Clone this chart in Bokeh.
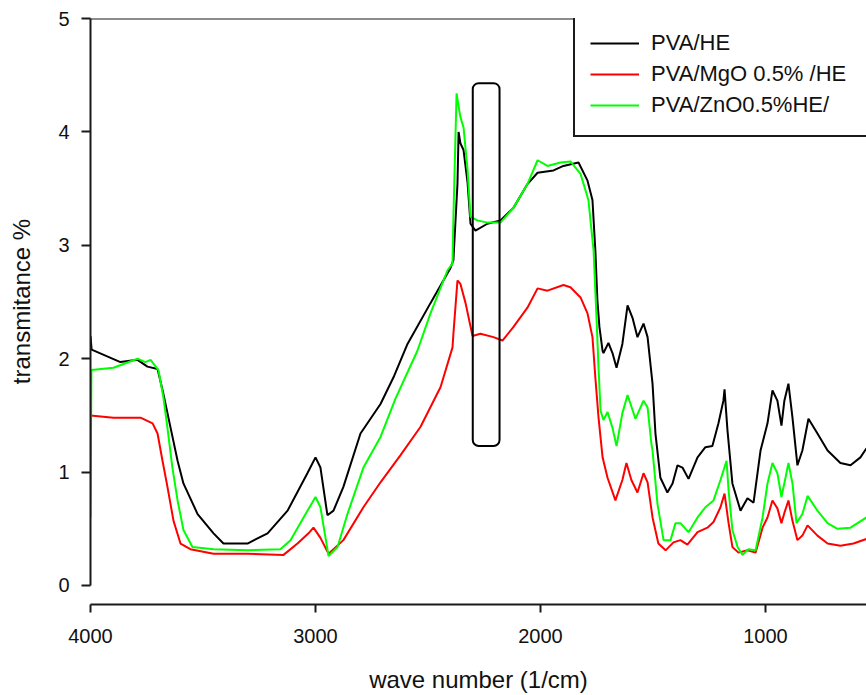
from bokeh.plotting import figure
from bokeh.models import Range1d, Legend, LegendItem, Span, BoxAnnotation, FixedTicker
from bokeh.embed import file_html
from bokeh.resources import INLINE

# ---- data (wave number 1/cm, transmitance %) ----
he_x = [4000, 3995, 3867, 3791, 3747, 3702, 3676, 3644, 3613, 3587, 3524, 3453, 3409, 3302, 3213,
        3124, 3036, 3000, 2978, 2947, 2920, 2876, 2800, 2711, 2650, 2591, 2489, 2400, 2387, 2369,
        2364, 2356, 2342, 2324, 2311, 2289, 2236, 2178, 2120, 2058, 2013, 1942, 1898, 1831, 1791,
        1769, 1756, 1747, 1738, 1724, 1720, 1698, 1680, 1662, 1636, 1613, 1591, 1569, 1542, 1524,
        1502, 1489, 1467, 1436, 1413, 1391, 1369, 1342, 1302, 1267, 1236, 1209, 1187, 1182, 1169,
        1147, 1111, 1080, 1053, 1022, 991, 969, 947, 929, 916, 898, 880, 858, 836, 809,
        769, 724, 667, 622, 578, 551]
he_y = [2.20, 2.08, 1.97, 1.99, 1.93, 1.91, 1.69, 1.39, 1.10, 0.90, 0.63, 0.46, 0.37, 0.37, 0.46,
        0.66, 0.99, 1.13, 1.04, 0.62, 0.66, 0.87, 1.34, 1.60, 1.85, 2.13, 2.49, 2.80, 2.87, 3.54,
        4.00, 3.90, 3.84, 3.55, 3.19, 3.13, 3.19, 3.22, 3.33, 3.54, 3.64, 3.66, 3.70, 3.73, 3.57,
        3.40, 2.95, 2.51, 2.28, 2.07, 2.05, 2.14, 2.05, 1.92, 2.13, 2.47, 2.36, 2.19, 2.31, 2.19,
        1.78, 1.34, 0.95, 0.82, 0.90, 1.06, 1.04, 0.94, 1.13, 1.22, 1.23, 1.43, 1.63, 1.73, 1.37,
        0.90, 0.66, 0.77, 0.73, 1.19, 1.43, 1.72, 1.63, 1.41, 1.63, 1.78, 1.48, 1.06, 1.19, 1.47,
        1.34, 1.19, 1.08, 1.06, 1.13, 1.21]

mgo_x = [4000, 3898, 3778, 3724, 3702, 3680, 3658, 3631, 3600, 3556, 3453, 3302, 3142, 3080, 3031,
         3009, 2978, 2942, 2876, 2787, 2711, 2622, 2533, 2444, 2391, 2387, 2369, 2356, 2333, 2302,
         2267, 2209, 2169, 2120, 2058, 2013, 1969, 1898, 1867, 1822, 1791, 1769, 1756, 1742, 1724,
         1702, 1667, 1636, 1618, 1596, 1569, 1542, 1524, 1502, 1476, 1444, 1409, 1378, 1347, 1302,
         1258, 1231, 1200, 1182, 1164, 1147, 1120, 1080, 1044, 1013, 991, 969, 947, 929, 916,
         898, 880, 858, 836, 813, 769, 724, 667, 609, 551]
mgo_y = [1.50, 1.48, 1.48, 1.43, 1.34, 1.10, 0.87, 0.57, 0.37, 0.32, 0.28, 0.28, 0.27, 0.37, 0.46,
         0.51, 0.42, 0.28, 0.40, 0.69, 0.91, 1.15, 1.40, 1.75, 2.10, 2.22, 2.69, 2.66, 2.49, 2.20,
         2.22, 2.19, 2.16, 2.28, 2.45, 2.62, 2.60, 2.65, 2.63, 2.54, 2.40, 2.19, 1.83, 1.48, 1.13,
         0.95, 0.75, 0.93, 1.08, 0.93, 0.82, 0.99, 0.91, 0.60, 0.37, 0.31, 0.38, 0.40, 0.36, 0.47,
         0.51, 0.56, 0.69, 0.81, 0.55, 0.34, 0.29, 0.31, 0.29, 0.51, 0.60, 0.75, 0.68, 0.55, 0.64,
         0.75, 0.57, 0.40, 0.44, 0.53, 0.44, 0.37, 0.35, 0.37, 0.41]

zno_x = [4000, 3996, 3898, 3791, 3756, 3733, 3698, 3676, 3658, 3636, 3613, 3587, 3547, 3453, 3302,
         3156, 3111, 3053, 3000, 2978, 2942, 2902, 2858, 2787, 2711, 2644, 2547, 2489, 2413, 2391,
         2387, 2373, 2356, 2342, 2324, 2311, 2280, 2236, 2178, 2120, 2058, 2013, 1969, 1911, 1867,
         1822, 1787, 1764, 1751, 1742, 1733, 1720, 1702, 1680, 1662, 1636, 1613, 1578, 1542, 1524,
         1507, 1502, 1480, 1453, 1422, 1400, 1378, 1342, 1302, 1267, 1231, 1200, 1173, 1164, 1147,
         1124, 1102, 1076, 1044, 1013, 991, 969, 947, 929, 911, 898, 880, 862, 836, 813,
         769, 724, 680, 622, 551]
zno_y = [0.60, 1.90, 1.92, 2.00, 1.97, 1.99, 1.90, 1.66, 1.39, 1.04, 0.75, 0.49, 0.34, 0.32, 0.31,
         0.32, 0.40, 0.60, 0.78, 0.69, 0.26, 0.34, 0.63, 1.04, 1.31, 1.65, 2.07, 2.40, 2.78, 2.84,
         3.25, 4.34, 4.13, 4.04, 3.66, 3.25, 3.22, 3.20, 3.20, 3.33, 3.54, 3.75, 3.70, 3.73, 3.74,
         3.63, 3.40, 2.95, 2.36, 1.92, 1.54, 1.46, 1.53, 1.39, 1.23, 1.52, 1.68, 1.47, 1.63, 1.57,
         1.25, 1.19, 0.72, 0.40, 0.40, 0.55, 0.55, 0.47, 0.60, 0.69, 0.75, 0.93, 1.10, 0.84, 0.49,
         0.34, 0.27, 0.32, 0.31, 0.60, 0.90, 1.08, 0.99, 0.78, 0.95, 1.08, 0.90, 0.55, 0.63, 0.79,
         0.66, 0.55, 0.50, 0.51, 0.60]

labels = ["PVA/HE", "PVA/MgO 0.5% /HE", "PVA/ZnO0.5%HE/"]
colors = ["#000000", "#ff0000", "#00ff00"]

x_ticks = [1000, 2000, 3000, 4000]
y_ticks = [0, 1, 2, 3, 4, 5]

# highlighted region box (wave number span, transmitance span)
box_x = [2301, 2182]
box_y = [1.23, 4.43]

FONT = "Liberation Sans"
AX = "#1a1a1a"

p = figure(width=866, height=695, output_backend="svg", toolbar_location=None,
           x_range=Range1d(4000, 551), y_range=Range1d(-0.1676, 5),
           min_border_left=90, min_border_right=0, min_border_top=18, min_border_bottom=91)
p.outline_line_color = None
p.grid.visible = False
p.background_fill_color = "white"
p.border_fill_color = "white"

for ax in (p.xaxis[0], p.yaxis[0]):
    ax.axis_line_width = 2
    ax.axis_line_color = AX
    ax.major_tick_line_width = 2
    ax.major_tick_line_color = AX
    ax.major_tick_in = 0
    ax.minor_tick_line_color = None
    ax.major_label_text_font = FONT
    ax.major_label_text_font_size = "20px"
    ax.major_label_text_color = "#111111"
    ax.axis_label_text_font = FONT
    ax.axis_label_text_font_size = "24px"
    ax.axis_label_text_font_style = "normal"
    ax.axis_label_text_color = "#111111"

p.xaxis[0].ticker = FixedTicker(ticks=x_ticks)
p.yaxis[0].ticker = FixedTicker(ticks=y_ticks)
p.yaxis[0].bounds = (0, 5)
p.xaxis[0].major_tick_out = 8
p.yaxis[0].major_tick_out = 9
p.xaxis[0].major_label_standoff = 16
p.yaxis[0].major_label_standoff = 12
p.xaxis[0].axis_label = "wave number (1/cm)"
p.xaxis[0].axis_label_standoff = 20
p.yaxis[0].axis_label = "\u00a0\u00a0\u00a0transmitance %"
p.yaxis[0].axis_label_standoff = 20

p.add_layout(Span(location=5, dimension="width", line_color=AX, line_width=2, line_alpha=1))

renderers = []
for xs, ys, c in ((he_x, he_y, colors[0]), (mgo_x, mgo_y, colors[1]), (zno_x, zno_y, colors[2])):
    r = p.line(xs, ys, line_color=c, line_width=2)
    renderers.append(r)

p.add_layout(BoxAnnotation(left=box_x[0], right=box_x[1], bottom=box_y[0], top=box_y[1],
                           fill_alpha=0, line_color="black", line_alpha=1, line_width=2,
                           border_radius=6))

legend = Legend(items=[LegendItem(label=l, renderers=[r]) for l, r in zip(labels, renderers)],
                location=(483, 467), margin=0, padding=15, spacing=1,
                glyph_width=49, glyph_height=30, label_height=30, label_width=215,
                label_standoff=12, label_text_font=FONT, label_text_font_size="22px",
                label_text_color="#111111",
                border_line_color=AX, border_line_width=2, border_line_alpha=1,
                background_fill_color="white", background_fill_alpha=1)
p.add_layout(legend)

open("out.html", "w").write(file_html(p, INLINE))
